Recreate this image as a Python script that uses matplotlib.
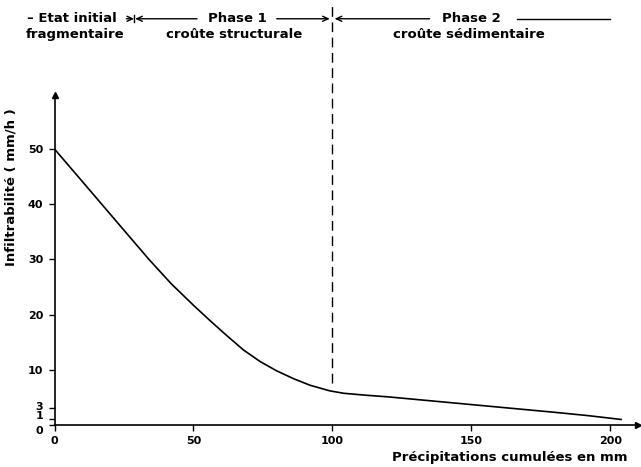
import matplotlib
matplotlib.use("Agg")
import matplotlib.pyplot as plt
from matplotlib.transforms import ScaledTranslation

# ---- data ----
precip_mm = [0, 8, 17, 26, 34, 42, 50, 56, 62, 68, 74, 80, 86, 92, 99,
             104, 112, 120, 135, 150, 165, 180, 192, 204]
infiltr = [50, 45.3, 40.0, 34.7, 30.0, 25.6, 21.7, 18.9, 16.2, 13.6, 11.5, 9.8, 8.4, 7.2, 6.2,
           5.75, 5.4, 5.1, 4.4, 3.7, 3.0, 2.3, 1.7, 1.0]
x_ticks = [0, 50, 100, 150, 200]
y_ticks = [0, 1, 3, 10, 20, 30, 40, 50]
y_ticklabels = ["0", "1", "3", "10", "20", "30", "40", "50"]
phase_bounds = [28.7, 100]
xlabel = "Précipitations cumulées en mm"
ylabel = "Infiltrabilité ( mm/h )"

FONT = "DejaVu Sans"
plt.rcParams["font.family"] = [FONT]

W, H = 641, 467
fig = plt.figure(figsize=(W / 100, H / 100), dpi=100)
ax = fig.add_axes([54.5 / W, (H - 425) / H, 583.5 / W, 425 / H])
ax.set_xlim(0, 210)
ax.set_ylim(0, 77.0)
ax.patch.set_alpha(0)

# curve
ax.plot(precip_mm, infiltr, color="black", lw=1.2, solid_capstyle="round",
        solid_joinstyle="round")

# spines
for s in ("top", "right"):
    ax.spines[s].set_visible(False)
ax.spines["left"].set_bounds(0, 59.8)
ax.spines["left"].set_linewidth(1.2)
ax.spines["bottom"].set_linewidth(1.2)
ax.plot(0, 59.8, marker="^", color="black", ms=4, clip_on=False)
ax.plot(210, 0, marker=">", color="black", ms=4, clip_on=False)

ax.set_xticks(x_ticks)
ax.set_yticks(y_ticks)
ax.set_yticklabels(y_ticklabels)
ax.tick_params(axis="both", direction="out", length=4.5, width=1.0, pad=3.5,
               labelsize=8, colors="black")
for lab in ax.get_xticklabels() + ax.get_yticklabels():
    lab.set_fontweight("bold")
# shift crowded y labels
shifts = {"3": 2.0, "1": 4.0, "0": -5.5}
for lab in ax.get_yticklabels():
    t = lab.get_text()
    if t in shifts:
        lab.set_transform(lab.get_transform() + ScaledTranslation(0, shifts[t] / 100, fig.dpi_scale_trans))

fig.text(628 / W, 1 - 458 / H, xlabel, ha="right", va="center", fontsize=9.5, fontweight="bold")
fig.text(11 / W, 1 - 187 / H, ylabel, ha="center", va="center", rotation=90,
         fontsize=9.5, fontweight="bold")

# vertical dashed boundary
ax.plot([phase_bounds[1], phase_bounds[1]], [7.6, 76.1], color="black", lw=1.0,
        linestyle=(0, (7, 4)), clip_on=False)

# phase annotations
y1, y2 = 73.6, 70.7
tk = dict(fontsize=9.5, fontweight="bold", ha="center", va="center")
ax.text(6.3, y1, "– Etat initial", **tk)
ax.text(7.4, y2, "fragmentaire", **tk)
ax.text(65.8, y1, "Phase 1", **tk)
ax.text(64.7, y2, "croûte structurale", **tk)
ax.text(150.2, y1, "Phase 2", **tk)
ax.text(149.1, y2, "croûte sédimentaire", **tk)

ap = dict(arrowstyle="->,head_length=0.4,head_width=0.18", lw=1.0, color="black",
          shrinkA=0, shrinkB=0)
b0 = phase_bounds[0]
ax.annotate("", xy=(b0, y1), xytext=(b0 - 2.8, y1), arrowprops=ap)
ax.plot([b0, b0], [y1 - 0.6, y1 + 0.6], color="black", lw=1.0)
ax.annotate("", xy=(b0 + 0.3, y1), xytext=(51.3, y1), arrowprops=ap)
ax.annotate("", xy=(99.1, y1), xytext=(80.0, y1), arrowprops=ap)
ax.annotate("", xy=(100.8, y1), xytext=(135.0, y1), arrowprops=ap)
ax.plot([166.4, 199.8], [y1, y1], color="black", lw=1.0)

fig.savefig("out.png", dpi=100)
